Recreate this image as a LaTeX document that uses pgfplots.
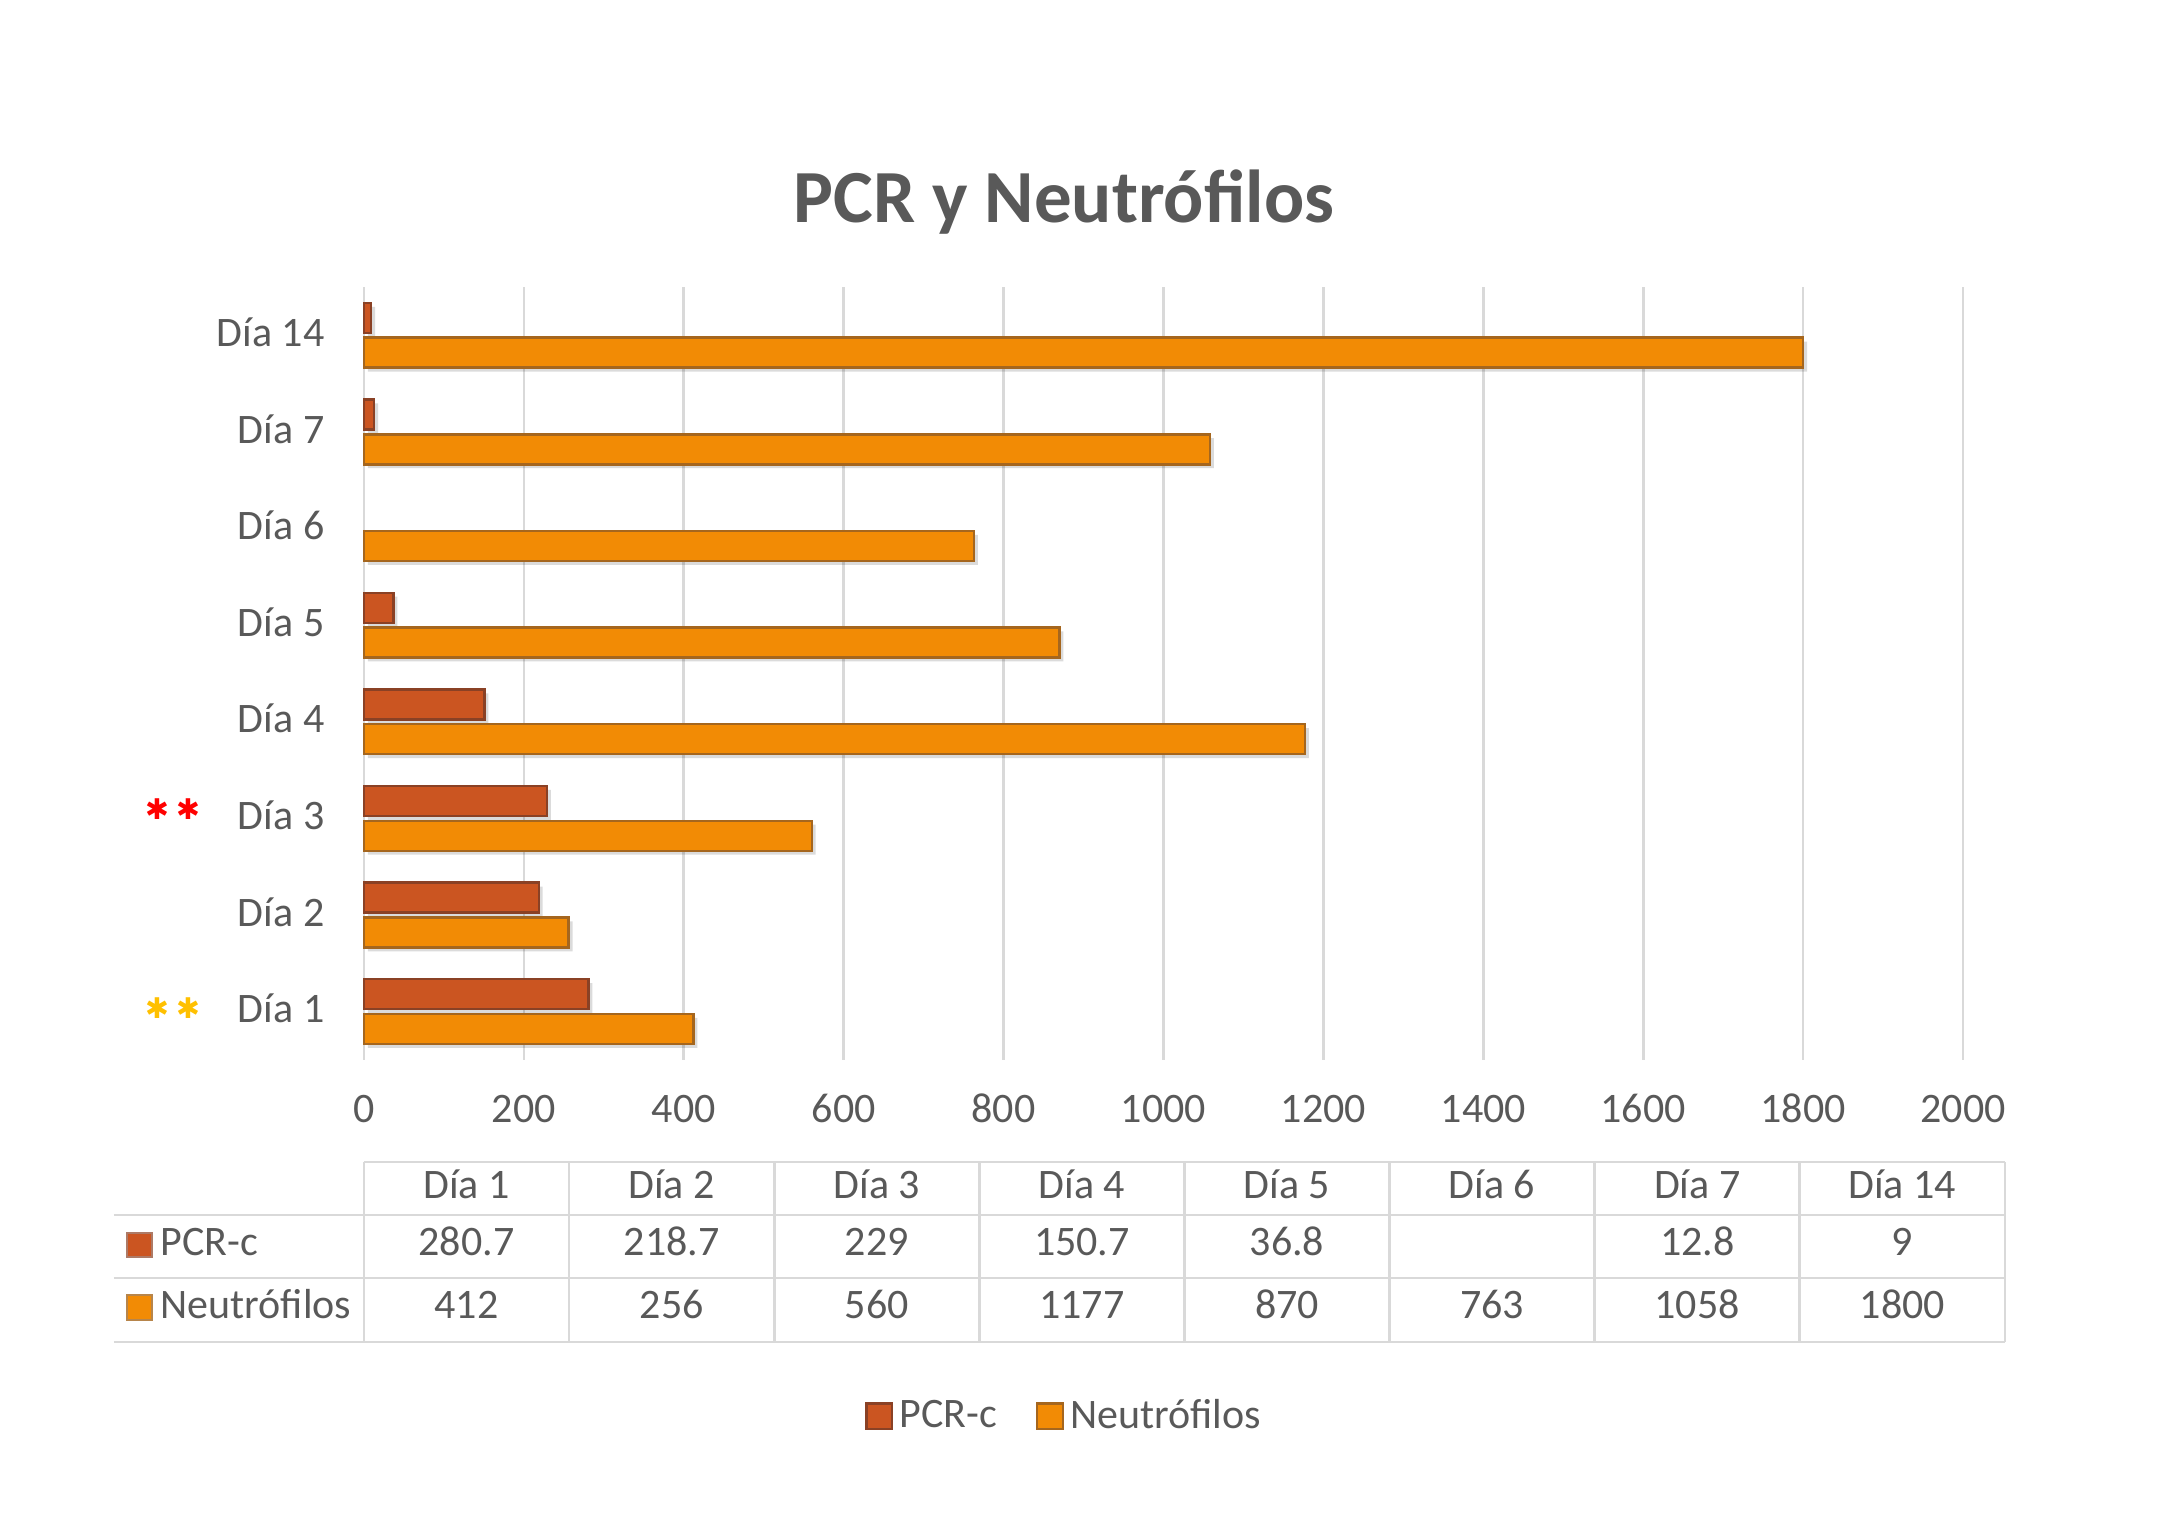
\documentclass[border=0pt]{standalone}
\usepackage{fontspec}
\setmainfont{Carlito}
\newfontfamily\symfont{DejaVu Sans}
\usepackage{pgfplots}
\usepackage{pgfplotstable}
\pgfplotsset{compat=1.18}

\definecolor{txt}{HTML}{595959}
\definecolor{gridc}{HTML}{D9D9D9}
\definecolor{pcrfill}{HTML}{CB5521}
\definecolor{pcrdraw}{HTML}{8A4125}
\definecolor{neufill}{HTML}{F28B05}
\definecolor{neudraw}{HTML}{A5661E}

% y: 0 = Dia 1 ... 7 = Dia 14
\pgfplotstableread{
y pcr
0 280.7
1 218.7
2 229
3 150.7
4 36.8
6 12.8
7 9
}\pcrdata
\pgfplotstableread{
y neu
0 412
1 256
2 560
3 1177
4 870
5 763
6 1058
7 1800
}\neudata

\pgfplotsset{
  sqlegend/.style={legend image code/.code={%
    \draw[##1, line width=0.8bp] (0bp,-4.3bp) rectangle (8.6bp,4.3bp);}},
}
\newcommand{\lbl}{\fontsize{14bp}{16bp}\selectfont}

\begin{document}
\begin{tikzpicture}
\useasboundingbox (0,0) rectangle (727.333bp,510bp);

\begin{axis}[
    at={(121.33bp,156.67bp)}, anchor=south west,
    scale only axis,
    width=533bp, height=257.67bp,
    xmin=0, xmax=2000, ymin=-0.5, ymax=7.5,
    xbar, bar width=10bp,
    xtick={0,200,...,2000},
    ytick={0,...,7},
    yticklabels={Día 1, Día 2, Día 3, Día 4, Día 5, Día 6, Día 7, Día 14},
    axis line style={draw=none},
    major tick length=0pt,
    xmajorgrids,
    grid style={gridc, line width=0.9bp},
    tick label style={font=\lbl, text=txt},
    xticklabel style={anchor=base, yshift=-21bp},
    yticklabel style={anchor=base east, xshift=-9.7bp, yshift=-3.7bp},
    /pgf/number format/assume math mode=true,
    /pgf/number format/1000 sep={},
    scaled x ticks=false,
    clip=false,
    legend style={at={(0.439,-0.461)}, anchor=center, draw=none, fill=none,
      legend columns=2, font=\lbl, text=txt, inner sep=0pt,
      /tikz/every even column/.append style={column sep=11bp},
      cells={anchor=west}},
  ]

  % soft shadows
  \addplot[forget plot, draw=none, fill=black, opacity=0.14,
    bar shift=5.8bp, xshift=1.3bp, yshift=-1.3bp]
    table[x=pcr, y=y] {\pcrdata};
  \addplot[forget plot, draw=none, fill=black, opacity=0.14,
    bar shift=-5.8bp, xshift=1.3bp, yshift=-1.3bp]
    table[x=neu, y=y] {\neudata};

  \addplot[sqlegend, fill=pcrfill, draw=pcrdraw, line width=0.8bp,
    bar shift=5.8bp]
    table[x=pcr, y=y] {\pcrdata};
  \addlegendentry{PCR-c}
  \addplot[sqlegend, fill=neufill, draw=neudraw, line width=0.8bp,
    bar shift=-5.8bp]
    table[x=neu, y=y] {\neudata};
  \addlegendentry{Neutrófilos}
\end{axis}

\begin{scope}[x=0.333333bp, y=0.333333bp]
\node[anchor=base, text=txt, font=\fontsize{25bp}{29bp}\selectfont\bfseries]
  at (1064,1308) {PCR y Neutrófilos};

% significance marks
\begin{scope}[font=\symfont\fontsize{9.5bp}{10bp}\selectfont]
  \node[text=red] at (157,721) {✱};
  \node[text=red] at (188,721) {✱};
  \node[text={rgb,255:red,255;green,192;blue,0}] at (157,522) {✱};
  \node[text={rgb,255:red,255;green,192;blue,0}] at (188,522) {✱};
\end{scope}

% data table
\begin{scope}[gridc, line width=0.9bp]
  \foreach \i in {0,...,8} \draw (364+205.125*\i,188) -- (364+205.125*\i,368);
  \draw (364,368) -- (2005,368);
  \draw (114,315) -- (2005,315);
  \draw (114,252) -- (2005,252);
  \draw (114,188) -- (2005,188);
\end{scope}
\begin{scope}[every node/.style={anchor=base, text=txt, font=\lbl, inner sep=0pt}]
  \foreach \t [count=\i] in {Día 1,Día 2,Día 3,Día 4,Día 5,Día 6,Día 7,Día 14}
    \node at (261.44+205.125*\i,331.5) {\t};
  \foreach \i/\v in {1/280.7,2/218.7,3/229,4/150.7,5/36.8,7/12.8,8/9}
    \node at (261.44+205.125*\i,274.5) {\v};
  \foreach \i/\v in {1/412,2/256,3/560,4/1177,5/870,6/763,7/1058,8/1800}
    \node at (261.44+205.125*\i,211.5) {\v};
  \node[anchor=base west] at (160,274.5) {PCR-c};
  \node[anchor=base west] at (160,211.5) {Neutrófilos};
\end{scope}
\filldraw[fill=pcrfill, draw=pcrdraw!70!white, line width=0.8bp]
  (127,273) rectangle (152,297);
\filldraw[fill=neufill, draw=neudraw!80!white, line width=0.8bp]
  (127,210) rectangle (152,235);
\end{scope}

\end{tikzpicture}
\end{document}
